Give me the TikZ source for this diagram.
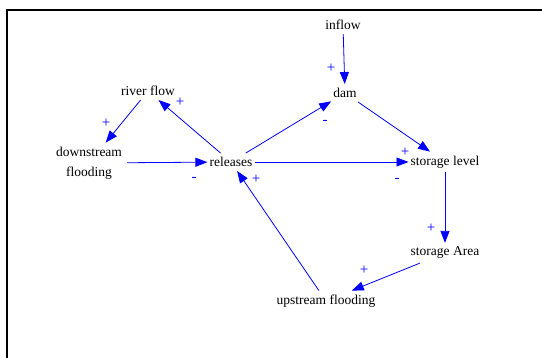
\documentclass[tikz,border=0pt]{standalone}
\usepackage{fontspec}
\setmainfont{Liberation Serif}
\usetikzlibrary{arrows.meta}
\definecolor{lblue}{RGB}{0,0,255}
\begin{document}
\begin{tikzpicture}[x=1pt,y=-1pt,
  var/.style={font=\fontsize{13.5}{20}\selectfont, inner xsep=2pt, inner ysep=4pt, align=center},
  sign/.style={font=\fontsize{15}{15}\selectfont, text=lblue, inner sep=0pt},
  link/.style={draw=lblue, line width=0.8pt, -{Triangle[length=12pt,width=9pt]}}]
\useasboundingbox (0,0) rectangle (542,358);
\draw[line width=2pt] (7,358) -- (7,10) -- (542,10);
\node[var] (inflow) at (343,25) {inflow};
\node[var] (dam) at (345,93) {dam};
\node[var] (river) at (148,91) {river flow};
\node[var, inner xsep=5pt] (down) at (89,163) {downstream\\flooding};
\node[var] (rel) at (231,162) {releases};
\node[var] (level) at (445,162) {storage level};
\node[var] (area) at (445,253) {storage Area};
\node[var] (up) at (326,301) {upstream flooding};
\draw[link] (inflow) -- (dam);
\draw[link] (dam) -- (level);
\draw[link] (rel) -- (dam);
\draw[link] (rel) -- (river);
\draw[link] (river) -- (down);
\draw[link] (down) -- (rel);
\draw[link] (rel) -- (level);
\draw[link] (level) -- (area);
\draw[link] (area) -- (up);
\draw[link] (up) -- (rel);
\node[sign] (s1) at (331,68) {+};
\node[sign] (s2) at (325,122) {-};
\node[sign] (s3) at (180,102) {+};
\node[sign] (s4) at (106,123) {+};
\node[sign] (s5) at (194,179) {-};
\node[sign] (s6) at (405,152) {+};
\node[sign] (s7) at (397,180) {-};
\node[sign] (s8) at (431,228) {+};
\node[sign] (s9) at (364,270) {+};
\node[sign] (s10) at (256,179) {+};
\end{tikzpicture}
\end{document}
